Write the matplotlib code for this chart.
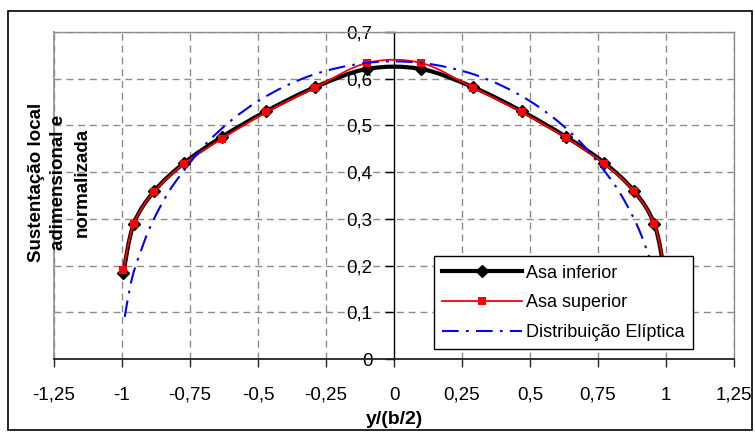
import numpy as np
import matplotlib
matplotlib.use('Agg')
import matplotlib.pyplot as plt
from matplotlib.path import Path
from matplotlib.patches import PathPatch, Rectangle
from matplotlib.lines import Line2D

plt.rcParams['font.family'] = ['Liberation Sans', 'DejaVu Sans']

# spanwise stations y/(b/2)
eta = [-0.995, -0.957, -0.882, -0.773, -0.634, -0.471, -0.290, -0.098,
       0.098, 0.290, 0.471, 0.634, 0.773, 0.882, 0.957, 0.995]
asa_inferior = [0.185, 0.289, 0.359, 0.419, 0.475, 0.530, 0.582, 0.621,
                0.621, 0.582, 0.530, 0.475, 0.420, 0.360, 0.289, 0.185]
asa_superior = [0.190, 0.289, 0.358, 0.417, 0.471, 0.528, 0.581, 0.634,
                0.634, 0.581, 0.528, 0.473, 0.418, 0.359, 0.289, 0.190]

eta_elip = [-0.99, -0.97, -0.95, -0.9, -0.85, -0.8, -0.7, -0.6, -0.5, -0.4,
            -0.3, -0.2, -0.1, 0.0, 0.1, 0.2, 0.3, 0.4, 0.5, 0.6, 0.7, 0.8,
            0.85, 0.9, 0.95, 0.97, 0.99]
cl_elip = [0.090, 0.155, 0.199, 0.278, 0.336, 0.382, 0.455, 0.510, 0.552, 0.584,
           0.608, 0.624, 0.634, 0.637, 0.634, 0.624, 0.608, 0.584, 0.552, 0.510,
           0.455, 0.382, 0.336, 0.278, 0.199, 0.155, 0.090]

x_ticks = [-1.25, -1, -0.75, -0.5, -0.25, 0, 0.25, 0.5, 0.75, 1, 1.25]
x_labels = ['-1,25', '-1', '-0,75', '-0,5', '-0,25', '0', '0,25', '0,5', '0,75', '1', '1,25']
y_ticks = [0, 0.1, 0.2, 0.3, 0.4, 0.5, 0.6, 0.7]
y_labels = ['0', '0,1', '0,2', '0,3', '0,4', '0,5', '0,6', '0,7']


def smooth_path(xs, ys):
    # excel-like smoothed line (catmull-rom as cubic bezier)
    pts = np.column_stack([xs, ys])
    n = len(pts)
    verts = [pts[0]]
    codes = [Path.MOVETO]
    for i in range(n - 1):
        p0 = pts[i - 1] if i > 0 else pts[i]
        p1 = pts[i]
        p2 = pts[i + 1]
        p3 = pts[i + 2] if i + 2 < n else pts[i + 1]
        verts += [p1 + (p2 - p0) / 6, p2 - (p3 - p1) / 6, p2]
        codes += [Path.CURVE4] * 3
    return Path(verts, codes)


W, H = 755, 437
fig = plt.figure(figsize=(7.55, 4.37), dpi=100)
ax = fig.add_axes([54 / W, 1 - 359 / H, (734 - 54) / W, (359 - 32) / H])

ax.set_xlim(-1.25, 1.25)
ax.set_ylim(0, 0.7)

grey = '#8c8c8c'
for xv in x_ticks:
    if xv != 0:
        ax.axvline(xv, color=grey, lw=1, ls=(0, (5, 3.5)), zorder=1)
for yv in y_ticks[1:]:
    ax.axhline(yv, color=grey, lw=1, ls=(0, (5, 3.5)), zorder=1)

blue_ls = (0, (8, 3.5, 1.3, 3.5))
ax.add_patch(PathPatch(smooth_path(eta, asa_inferior), fill=False, edgecolor='black',
                       lw=3, zorder=3, joinstyle='round'))
ax.plot(eta, asa_inferior, ls='none', marker='D', ms=6.5, color='black', zorder=4)
ax.add_patch(PathPatch(smooth_path(eta, asa_superior), fill=False, edgecolor='#ff0000',
                       lw=1.3, zorder=5))
ax.plot(eta, asa_superior, ls='none', marker='s', ms=5.5, mew=0, color='#ff0000', zorder=6)
ax.add_patch(PathPatch(smooth_path(eta_elip, cl_elip), fill=False, edgecolor='#0000ff',
                       lw=1.5, ls=blue_ls, zorder=7))

# axes: value axis crosses at 0
ax.spines['left'].set_position(('data', 0))
ax.spines['left'].set_color('black')
ax.spines['left'].set_linewidth(1)
ax.spines['bottom'].set_color('#222222')
ax.spines['bottom'].set_linewidth(1.3)
for s in ['top', 'right']:
    ax.spines[s].set_color(grey)
    ax.spines[s].set_linewidth(1)
ax.plot([0, 0], [0, 1], transform=ax.transAxes, color=grey, lw=1.2, clip_on=False, zorder=2)

ax.set_xticks(x_ticks)
ax.set_xticklabels(x_labels, fontsize=13.5)
ax.set_yticks(y_ticks)
ax.set_yticklabels(y_labels, fontsize=13.5)
ax.tick_params(axis='x', direction='out', length=6, width=1, pad=14, color='#222222')
ax.tick_params(axis='y', direction='out', length=6.5, width=1, pad=9)

ax.set_xlabel('y/(b/2)', fontsize=14, fontweight='bold', labelpad=5)
fig.text(59 / W, 1 - 182 / H, 'Sustentação local\nadimensional e\nnormalizada',
         rotation=90, ha='center', va='center', multialignment='center',
         fontsize=13.5, fontweight='bold', linespacing=1.45)

handles = [
    Line2D([], [], color='black', lw=3, marker='D', ms=6.5),
    Line2D([], [], color='#ff0000', lw=1.3, marker='s', ms=5.5, mew=0),
    Line2D([], [], color='#0000ff', lw=1.5, ls=blue_ls),
]
leg = ax.legend(handles, ['Asa inferior', 'Asa superior', 'Distribuição Elíptica'],
                loc='lower right', bbox_to_anchor=(693 / W, 1 - 349 / H),
                bbox_transform=fig.transFigure, borderaxespad=0, fontsize=13,
                handlelength=4.4, handletextpad=0.25, borderpad=0.45, labelspacing=0.7,
                fancybox=False, framealpha=1, edgecolor='black')
leg.get_frame().set_linewidth(1)
leg.set_zorder(10)

fig.add_artist(Rectangle((8 / W, 1 - 430 / H), (752 - 8) / W, (430 - 11) / H,
                         transform=fig.transFigure, fill=False, ec='black', lw=1.2))

fig.savefig('out.png', dpi=100)
